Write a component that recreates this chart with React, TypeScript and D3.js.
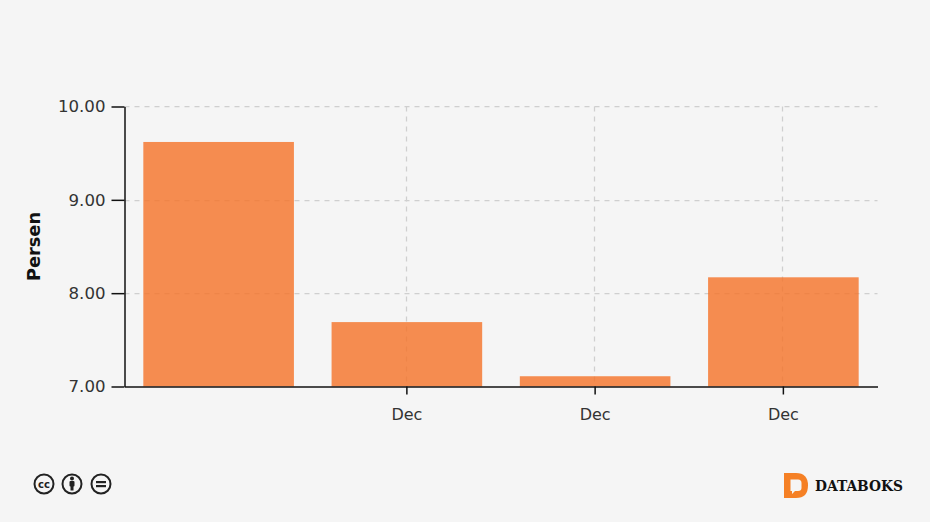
import React, { useEffect, useRef } from "react";
import * as d3 from "d3";

const categories = ["a", "b", "c", "d"];
const tickLabels = ["", "Dec", "Dec", "Dec"];
const values = [9.62, 7.69, 7.11, 8.17];
const yTicks = [7, 8, 9, 10];

const W = 930, H = 522;
const X0 = 124.5, X1 = 877.5, Y0 = 386.5, Y1 = 106.5;

export default function App() {
  const ref = useRef<SVGGElement>(null);
  const x = d3.scaleBand<string>().domain(categories).range([X0, X1]).paddingInner(0.2).paddingOuter(0.1);
  const y = d3.scaleLinear().domain([7, 10]).range([Y0, Y1]);
  useEffect(() => {
    const g = d3.select(ref.current);
    g.selectAll("*").remove();
    // grid
    const grid = g.append("g");
    yTicks.filter(t => t > 7).forEach(t => {
      const yy = Math.round(y(t)) + 0.5 - (t === 10 ? 1 : 0);
      grid.append("line").attr("x1", X0).attr("x2", X1).attr("y1", yy).attr("y2", yy)
        .attr("stroke", "#cfcfcf").attr("stroke-dasharray", "5 5").attr("stroke-width", 1.25);
    });
    categories.forEach((c, i) => {
      if (!tickLabels[i]) return;
      const cx = Math.round(x(c)! + x.bandwidth() / 2) - 0.5;
      grid.append("line").attr("x1", cx).attr("x2", cx).attr("y1", Y1).attr("y2", Y0)
        .attr("stroke", "#cfcfcf").attr("stroke-dasharray", "5 5").attr("stroke-width", 1.25);
    });
    // bars
    g.append("g").selectAll("rect").data(values).join("rect")
      .attr("x", (_, i) => x(categories[i])!)
      .attr("width", x.bandwidth())
      .attr("y", d => y(d))
      .attr("height", d => Y0 - y(d))
      .attr("fill", "#f57227").attr("fill-opacity", 0.8);
    // y axis
    const ya = d3.axisLeft(y).tickValues(yTicks).tickFormat(d3.format(".2f") as any).tickSize(13).tickSizeOuter(0).tickPadding(5);
    const ay = g.append("g").attr("transform", `translate(${X0},0)`).call(ya);
    ay.select(".domain").attr("stroke", "#111").attr("stroke-width", 1.5);
    ay.selectAll(".tick line").attr("stroke", "#111").attr("stroke-width", 1.5).attr("x1", 0).attr("x2", -13);
    ay.selectAll("text").attr("fill", "#333").attr("x", -19).style("font", "16.6px 'DejaVu Sans'");
    // x axis
    const xa = d3.axisBottom(x).tickFormat((_, i) => tickLabels[i]).tickSize(8).tickSizeOuter(0).tickPadding(0);
    const ax = g.append("g").attr("transform", `translate(0,${Y0})`).call(xa);
    ax.select(".domain").attr("stroke", "#111").attr("stroke-width", 1.5);
    ax.selectAll(".tick").filter((_, i) => !tickLabels[i]).select("line").remove();
    ax.selectAll(".tick line").attr("stroke", "#111").attr("stroke-width", 1.5);
    ax.selectAll("text").attr("fill", "#333").attr("y", 22).style("font", "16px 'DejaVu Sans'");
  }, []);
  return (
    <svg width={W} height={H} style={{ position: "fixed", left: 0, top: 0, background: "#f5f5f5" }}>
      <g ref={ref} />
      <text transform="translate(39.5,246.5) rotate(-90)" textAnchor="middle" fontFamily="'DejaVu Sans'" fontWeight="bold" fontSize={17.8} fill="#111">Persen</text>
      {/* CC icons */}
      <g fill="none" stroke="#222" strokeWidth={2}>
        <circle cx={44} cy={484} r={9.5} />
        <circle cx={72} cy={484} r={9.5} />
        <circle cx={101} cy={484} r={9.5} />
      </g>
      <text x={44} y={488} textAnchor="middle" fontFamily="'DejaVu Sans'" fontWeight="bold" fontSize={10} fill="#222">cc</text>
      <g fill="#222">
        <circle cx={72} cy={478.5} r={2} />
        <rect x={69.5} y={481} width={5} height={5.5} rx={1} />
        <rect x={70.5} y={485} width={3} height={5.5} />
        <rect x={96} y={481} width={10} height={2.2} />
        <rect x={96} y={485} width={10} height={2.2} />
      </g>
      {/* Databoks logo */}
      <path d="M784 473 H796 Q808 473 808 485.5 Q808 498 796 498 H784 Z" fill="#f58025" />
      <path d="M790.5 479.5 H798 Q801.5 479.5 801.5 483 V488 Q801.5 491 798 491 H795 L792 494 V491 H790.5 Z" fill="#f5f5f5" />
      <text x={815} y={491} fontFamily="'DejaVu Serif'" fontWeight="bold" fontSize={14.5} fill="#111" textLength={88} lengthAdjust="spacingAndGlyphs">DATABOKS</text>
    </svg>
  );
}
